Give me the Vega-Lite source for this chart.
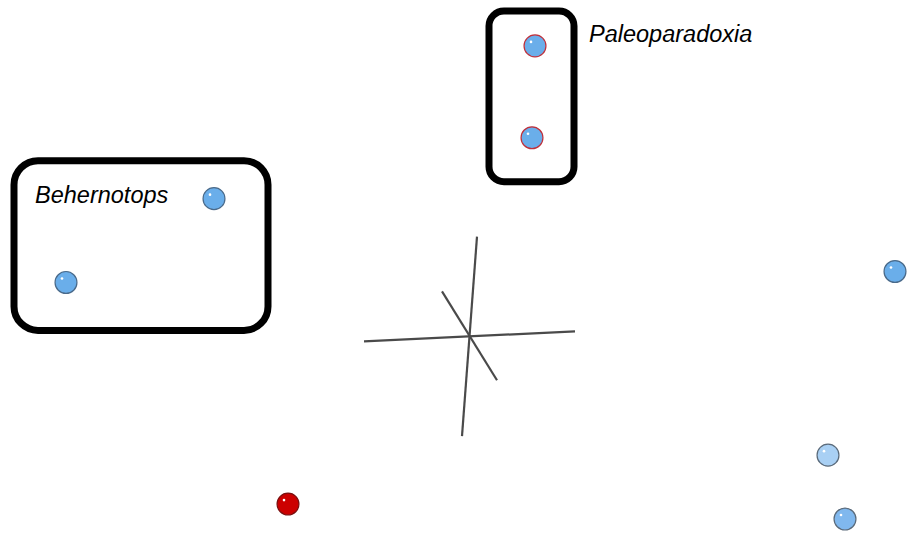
{
  "$schema": "https://vega.github.io/schema/vega-lite/v6.json",
  "autosize": {"type": "fit", "contains": "padding"},
  "width": 916,
  "height": 533,
  "padding": 0,
  "background": "white",
  "config": {"view": {"stroke": null}},
  "datasets": {
    "boxes": [
      {"group": "Paleoparadoxia", "x1": 489, "x2": 574, "y1": 11, "y2": 182},
      {"group": "Behernotops", "x1": 14, "x2": 268, "y1": 161, "y2": 331}
    ],
    "labels": [
      {"label": "Paleoparadoxia", "x": 589, "y": 35},
      {"label": "Behernotops", "x": 35, "y": 196}
    ],
    "axes3d": [
      {"x1": 364, "y1": 342, "x2": 575, "y2": 332},
      {"x1": 477, "y1": 237, "x2": 462, "y2": 437},
      {"x1": 442, "y1": 292, "x2": 497, "y2": 381}
    ],
    "points": [
      {"id": "P1", "x": 535, "y": 46, "fillc": "#6aaeea", "strokec": "#c0303a"},
      {"id": "P2", "x": 532, "y": 138, "fillc": "#6aaeea", "strokec": "#c0303a"},
      {"id": "B1", "x": 214, "y": 199, "fillc": "#6aaeea", "strokec": "#4a6a8a"},
      {"id": "B2", "x": 66, "y": 283, "fillc": "#6aaeea", "strokec": "#4a6a8a"},
      {"id": "O1", "x": 895, "y": 272, "fillc": "#6aaeea", "strokec": "#4a6a8a"},
      {"id": "O2", "x": 828, "y": 456, "fillc": "#a9d0f4", "strokec": "#5a6a7a"},
      {"id": "O3", "x": 845, "y": 520, "fillc": "#80b8ee", "strokec": "#5a6a7a"},
      {"id": "R1", "x": 288, "y": 505, "fillc": "#cc0000", "strokec": "#7a1010"}
    ]
  },
  "layer": [
    {
      "data": {"name": "axes3d"},
      "mark": {"type": "rule", "color": "#4a4a4a", "strokeWidth": 2.2},
      "encoding": {
        "x": {"field": "x1", "type": "quantitative", "scale": {"domain": [0, 916], "nice": false, "zero": false}, "axis": null},
        "y": {"field": "y1", "type": "quantitative", "scale": {"domain": [0, 533], "nice": false, "zero": false, "reverse": true}, "axis": null},
        "x2": {"field": "x2"},
        "y2": {"field": "y2"}
      }
    },
    {
      "data": {"name": "boxes"},
      "transform": [{"filter": "datum.group === 'Paleoparadoxia'"}],
      "mark": {"type": "rect", "fill": null, "stroke": "black", "strokeWidth": 7, "cornerRadius": 15},
      "encoding": {
        "x": {"field": "x1", "type": "quantitative"},
        "x2": {"field": "x2"},
        "y": {"field": "y1", "type": "quantitative"},
        "y2": {"field": "y2"}
      }
    },
    {
      "data": {"name": "boxes"},
      "transform": [{"filter": "datum.group === 'Behernotops'"}],
      "mark": {"type": "rect", "fill": null, "stroke": "black", "strokeWidth": 7, "cornerRadius": 24},
      "encoding": {
        "x": {"field": "x1", "type": "quantitative"},
        "x2": {"field": "x2"},
        "y": {"field": "y1", "type": "quantitative"},
        "y2": {"field": "y2"}
      }
    },
    {
      "data": {"name": "labels"},
      "mark": {"type": "text", "align": "left", "baseline": "middle", "fontStyle": "italic", "fontSize": 23.5, "font": "Liberation Sans", "color": "black"},
      "encoding": {
        "x": {"field": "x", "type": "quantitative"},
        "y": {"field": "y", "type": "quantitative"},
        "text": {"field": "label"}
      }
    },
    {
      "data": {"name": "points"},
      "mark": {"type": "point", "shape": "circle", "filled": true, "size": 480, "opacity": 1, "strokeWidth": 1.2},
      "encoding": {
        "x": {"field": "x", "type": "quantitative"},
        "y": {"field": "y", "type": "quantitative"},
        "fill": {"field": "fillc", "type": "nominal", "scale": null},
        "stroke": {"field": "strokec", "type": "nominal", "scale": null}
      }
    },
    {
      "data": {"name": "points"},
      "mark": {"type": "point", "shape": "circle", "filled": true, "size": 7, "opacity": 1, "color": "white", "xOffset": -4, "yOffset": -4},
      "encoding": {
        "x": {"field": "x", "type": "quantitative"},
        "y": {"field": "y", "type": "quantitative"}
      }
    }
  ]
}
